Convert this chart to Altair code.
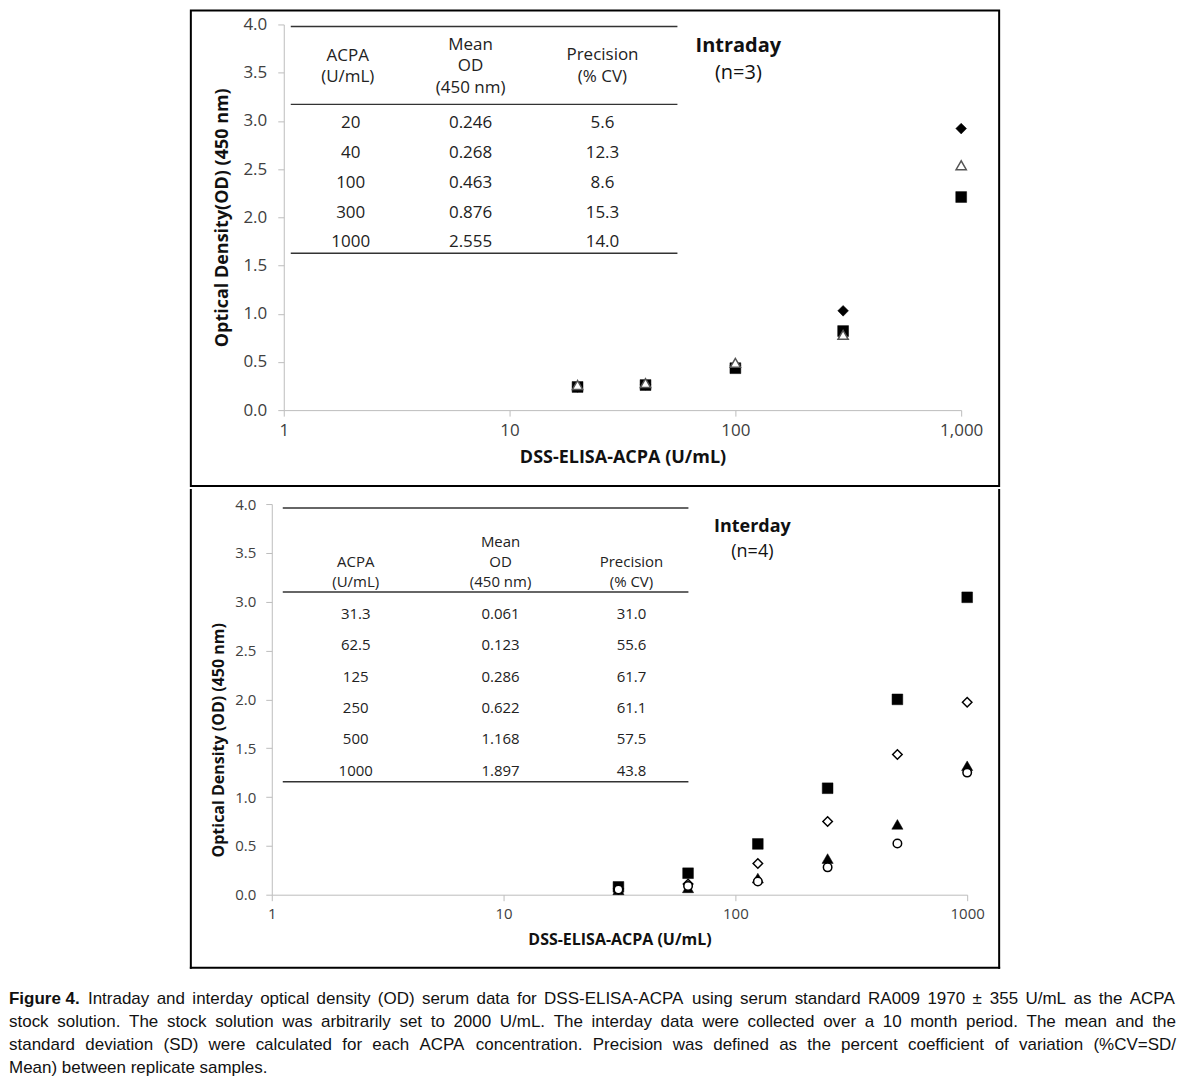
import altair as alt
import pandas as pd

FONT = "Open Sans"
CAP_FONT = "Liberation Sans"

# ---------------- data: intraday (n=3) ----------------
intra_acpa = [20, 40, 100, 300, 1000]
intra_diamond = [0.24, 0.265, 0.46, 1.03, 2.92]
intra_square = [0.24, 0.26, 0.435, 0.82, 2.21]
intra_triangle = [0.26, 0.28, 0.49, 0.78, 2.54]

intra_tbl_acpa = ["20", "40", "100", "300", "1000"]
intra_tbl_mean = ["0.246", "0.268", "0.463", "0.876", "2.555"]
intra_tbl_cv = ["5.6", "12.3", "8.6", "15.3", "14.0"]

# ---------------- data: interday (n=4) ----------------
inter_acpa = [31.3, 62.5, 125, 250, 500, 1000]
inter_square = [0.08, 0.22, 0.52, 1.09, 2.00, 3.045]
inter_diamond = [0.06, 0.11, 0.32, 0.75, 1.435, 1.97]
inter_triangle = [0.05, 0.07, 0.17, 0.37, 0.72, 1.32]
inter_circle = [0.054, 0.09, 0.135, 0.28, 0.525, 1.25]

inter_tbl_acpa = ["31.3", "62.5", "125", "250", "500", "1000"]
inter_tbl_mean = ["0.061", "0.123", "0.286", "0.622", "1.168", "1.897"]
inter_tbl_cv = ["31.0", "55.6", "61.7", "61.1", "57.5", "43.8"]

# ---------------- axes / labels ----------------
x_tick_values = [1, 10, 100, 1000]
y_tick_values = [0.0, 0.5, 1.0, 1.5, 2.0, 2.5, 3.0, 3.5, 4.0]
x_title = "DSS-ELISA-ACPA (U/mL)"
y_title_top = "Optical Density(OD) (450 nm)"
y_title_bottom = "Optical Density (OD) (450 nm)"
hdr_acpa = ["ACPA", "(U/mL)"]
hdr_mean = ["Mean", "OD", "(450 nm)"]
hdr_cv = ["Precision", "(% CV)"]

# ---------------- caption ----------------
cap_bold = "Figure 4."
cap_line1 = ("Intraday and interday optical density (OD) serum data for DSS-ELISA-ACPA "
             "using serum standard RA009 1970 ± 355 U/mL as the ACPA")
cap_line2 = ("stock solution. The stock solution was arbitrarily set to 2000 U/mL. "
             "The interday data were collected over a 10 month period. The mean and the")
cap_line3 = ("standard deviation (SD) were calculated for each ACPA concentration. "
             "Precision was defined as the percent coefficient of variation (%CV=SD/")
cap_line4 = "Mean) between replicate samples."

AX_GRAY = "#bdbdbd"
LBL = "#404040"
TXT = "#222222"
one = pd.DataFrame({"k": [0]})

# Arial / Liberation Sans advance widths (1/1000 em), used to justify the caption
_W = {" ": 278, ".": 278, ",": 278, "(": 333, ")": 333, "-": 333, "/": 278, "%": 889,
      "=": 584, ":": 278, ";": 278, "±": 584}
_W.update({c: 556 for c in "0123456789"})
_W.update(dict(zip("abcdefghijklmnopqrstuvwxyz",
                   [556, 556, 500, 556, 556, 278, 556, 556, 222, 222, 500, 222, 833,
                    556, 556, 556, 556, 333, 500, 278, 556, 500, 722, 500, 500, 500])))
_W.update(dict(zip("ABCDEFGHIJKLMNOPQRSTUVWXYZ",
                   [667, 667, 722, 722, 667, 611, 778, 722, 278, 500, 667, 556, 833,
                    722, 778, 667, 778, 722, 667, 611, 722, 667, 944, 667, 667, 611])))


def text_width(s, size):
    return sum(_W.get(c, 556) for c in s) * size / 1000.0


def justify(text, x0, x1, y, size):
    words = text.split(" ")
    widths = [text_width(w, size) for w in words]
    gap = (x1 - x0 - sum(widths)) / (len(words) - 1)
    recs, x = [], x0
    for w, wd in zip(words, widths):
        recs.append((w, x, y))
        x += wd + gap
    return recs


def long_df(acpa, series):
    rows = []
    for name, vals in series.items():
        for a, v in zip(acpa, vals):
            rows.append({"acpa": a, "od": v, "series": name})
    return pd.DataFrame(rows)


def table_layer(records, size):
    df = pd.DataFrame(records, columns=["text", "px", "py"])
    return alt.Chart(df).mark_text(font=FONT, fontSize=size, color=TXT,
                                   align="center", baseline="middle").encode(
        x=alt.X("px:Q", scale=None, axis=None),
        y=alt.Y("py:Q", scale=None, axis=None),
        text="text:N")


def rules_layer(x1, x2, ys):
    df = pd.DataFrame({"px": [x1] * len(ys), "px2": [x2] * len(ys), "py": ys})
    return alt.Chart(df).mark_rule(color="#333333", strokeWidth=1.5).encode(
        x=alt.X("px:Q", scale=None, axis=None), x2="px2:Q",
        y=alt.Y("py:Q", scale=None, axis=None))


def build_table(cols_x, hdr_pos, row_y0, row_step, cols, size):
    recs = []
    for (txts, x, ys) in hdr_pos:
        for t, y in zip(txts, ys):
            recs.append((t, x, y))
    for ci, col in enumerate(cols):
        for ri, t in enumerate(col):
            recs.append((t, cols_x[ci], row_y0 + ri * row_step))
    return table_layer(recs, size)


def point_layer(df, name, shape, size, fill, stroke, sw, xenc, yenc):
    return alt.Chart(df).transform_filter(alt.datum.series == name).mark_point(
        shape=shape, size=size, filled=True, fill=fill, stroke=stroke,
        strokeWidth=sw, opacity=1).encode(x=xenc, y=yenc)


# ================= top panel =================
TW, TH = 678, 386
top_df = long_df(intra_acpa, {"diamond": intra_diamond, "square": intra_square,
                              "triangle": intra_triangle})
tx = alt.X("acpa:Q", scale=alt.Scale(type="log", domain=[1, 1000], nice=False),
           axis=alt.Axis(values=x_tick_values, format=",", title=x_title, grid=False,
                         domainColor=AX_GRAY, tickColor=AX_GRAY, tickSize=6,
                         labelFont=FONT, labelFontSize=17, labelColor=LBL,
                         labelPadding=6, labelFlush=False, labelOverlap=False,
                         titleFont=FONT, titleFontSize=18, titleFontWeight="bold",
                         titleColor="#111111", titlePadding=10))
ty = alt.Y("od:Q", scale=alt.Scale(domain=[0, 4], nice=False, zero=False),
           axis=alt.Axis(values=y_tick_values, format=".1f", title=y_title_top, grid=False,
                         domainColor=AX_GRAY, tickColor=AX_GRAY, tickSize=6,
                         labelFont=FONT, labelFontSize=17, labelColor=LBL,
                         labelPadding=11, labelOverlap=False,
                         titleFont=FONT, titleFontSize=18, titleFontWeight="bold",
                         titleColor="#111111", titleX=-61, titleY=TH / 2,
                         titleBaseline="middle"))

top_frame = alt.Chart(one).mark_rect(fill="white", fillOpacity=0, stroke="black",
                                     strokeWidth=2).encode(
    x=alt.value(-93), x2=alt.value(716), y=alt.value(-14), y2=alt.value(462))

top_table = build_table(
    [67, 187, 319],
    [(hdr_acpa, 64, [32, 53]), (hdr_mean, 187, [21, 42, 64]), (hdr_cv, 319, [31, 53])],
    99, 29.8, [intra_tbl_acpa, intra_tbl_mean, intra_tbl_cv], 17)
top_rules = rules_layer(7, 394, [2, 80, 229])
top_lbl1 = alt.Chart(one).mark_text(font=FONT, fontSize=20, fontWeight="bold",
                                    color="#111111", baseline="middle").encode(
    x=alt.value(455), y=alt.value(22), text=alt.value("Intraday"))
top_lbl2 = alt.Chart(one).mark_text(font=FONT, fontSize=20, color="#111111",
                                    baseline="middle").encode(
    x=alt.value(455), y=alt.value(49), text=alt.value("(n=3)"))

top = alt.layer(
    point_layer(top_df, "diamond", "diamond", 115, "black", "black", 0.5, tx, ty),
    point_layer(top_df, "square", "square", 118, "black", "black", 0.5, tx, ty),
    point_layer(top_df, "triangle", "triangle-up", 105, "white", "#555555", 1.5, tx, ty),
    top_rules, top_table, top_lbl1, top_lbl2, top_frame,
).properties(width=TW, height=TH)

# ================= bottom panel =================
BW, BH = 684, 391
bot_df = long_df(inter_acpa, {"square": inter_square, "diamond": inter_diamond,
                              "triangle": inter_triangle, "circle": inter_circle})
bx = alt.X("acpa:Q", scale=alt.Scale(type="log", domain=[1, 1000], nice=False,
                                     range=[-12, BW]),
           axis=alt.Axis(values=x_tick_values, format="d", title=x_title, grid=False,
                         domainColor=AX_GRAY, tickColor=AX_GRAY, tickSize=6,
                         labelFont=FONT, labelFontSize=15, labelColor=LBL,
                         labelPadding=6, labelFlush=False, labelOverlap=False,
                         titleFont=FONT, titleFontSize=16, titleFontWeight="bold",
                         titleColor="#111111", titlePadding=10))
by = alt.Y("od:Q", scale=alt.Scale(domain=[0, 4], nice=False, zero=False),
           axis=alt.Axis(values=y_tick_values, format=".1f", title=y_title_bottom,
                         grid=False, offset=12,
                         domainColor=AX_GRAY, tickColor=AX_GRAY, tickSize=6,
                         labelFont=FONT, labelFontSize=15, labelColor=LBL,
                         labelPadding=10, labelOverlap=False,
                         titleFont=FONT, titleFontSize=16, titleFontWeight="bold",
                         titleColor="#111111", titleX=-53, titleY=236,
                         titleBaseline="middle"))

bot_frame_l = alt.Chart(one).mark_rule(color="black", strokeWidth=2, strokeCap="square").encode(
    x=alt.value(-93), y=alt.value(-14), y2=alt.value(464))
bot_frame_r = alt.Chart(one).mark_rule(color="black", strokeWidth=2, strokeCap="square").encode(
    x=alt.value(716), y=alt.value(-14), y2=alt.value(464))
bot_frame_b = alt.Chart(one).mark_rule(color="black", strokeWidth=2, strokeCap="square").encode(
    x=alt.value(-93), x2=alt.value(716), y=alt.value(464))

bot_table = build_table(
    [72, 217, 348],
    [(hdr_acpa, 72, [58, 78]), (hdr_mean, 217, [38, 58, 78]), (hdr_cv, 348, [58, 78])],
    110, 31.4, [inter_tbl_acpa, inter_tbl_mean, inter_tbl_cv], 15)
bot_rules = rules_layer(-1, 405, [4, 88, 278])
bot_lbl1 = alt.Chart(one).mark_text(font=FONT, fontSize=18, fontWeight="bold",
                                    color="#111111", baseline="middle").encode(
    x=alt.value(469), y=alt.value(23), text=alt.value("Interday"))
bot_lbl2 = alt.Chart(one).mark_text(font=FONT, fontSize=18, color="#111111",
                                    baseline="middle").encode(
    x=alt.value(469), y=alt.value(48), text=alt.value("(n=4)"))

bottom = alt.layer(
    point_layer(bot_df, "square", "square", 115, "black", "black", 0.5, bx, by),
    point_layer(bot_df, "diamond", "diamond", 90, "white", "black", 1.5, bx, by),
    point_layer(bot_df, "triangle", "triangle-up", 125, "black", "black", 0.5, bx, by),
    point_layer(bot_df, "circle", "circle", 72, "white", "black", 1.5, bx, by),
    bot_rules, bot_table, bot_lbl1, bot_lbl2, bot_frame_l, bot_frame_r, bot_frame_b,
).properties(width=BW, height=BH)

# ================= caption (justified) =================
CS = 17
CX0, CX1 = -275, 893
cap_y = [28, 51, 74, 97]
recs = []
recs += justify(cap_line1, CX0 + 79, CX1, cap_y[0], CS)
recs += justify(cap_line2, CX0, CX1, cap_y[1], CS)
recs += justify(cap_line3, CX0, CX1, cap_y[2], CS)
cap_df = pd.DataFrame(recs, columns=["text", "px", "py"])

cap_words = alt.Chart(cap_df).mark_text(
    font=CAP_FONT, fontSize=CS, color="#111111", align="left", baseline="middle").encode(
    x=alt.X("px:Q", scale=None, axis=None), y=alt.Y("py:Q", scale=None, axis=None),
    text="text:N")
cap_b = alt.Chart(one).mark_text(font=CAP_FONT, fontSize=CS, fontWeight="bold",
                                 color="#111111", align="left", baseline="middle").encode(
    x=alt.value(CX0), y=alt.value(cap_y[0]), text=alt.value(cap_bold))
cap_4 = alt.Chart(one).mark_text(font=CAP_FONT, fontSize=CS, color="#111111",
                                 align="left", baseline="middle").encode(
    x=alt.value(CX0), y=alt.value(cap_y[3]), text=alt.value(cap_line4))
caption = alt.layer(cap_words, cap_b, cap_4).properties(width=CX1, height=10)

chart = alt.vconcat(top, bottom, caption, spacing=0).properties(
    padding=0, background="white"
).configure_view(stroke="transparent")

chart.save("out.html", embed_options={"renderer": "svg", "actions": False})
